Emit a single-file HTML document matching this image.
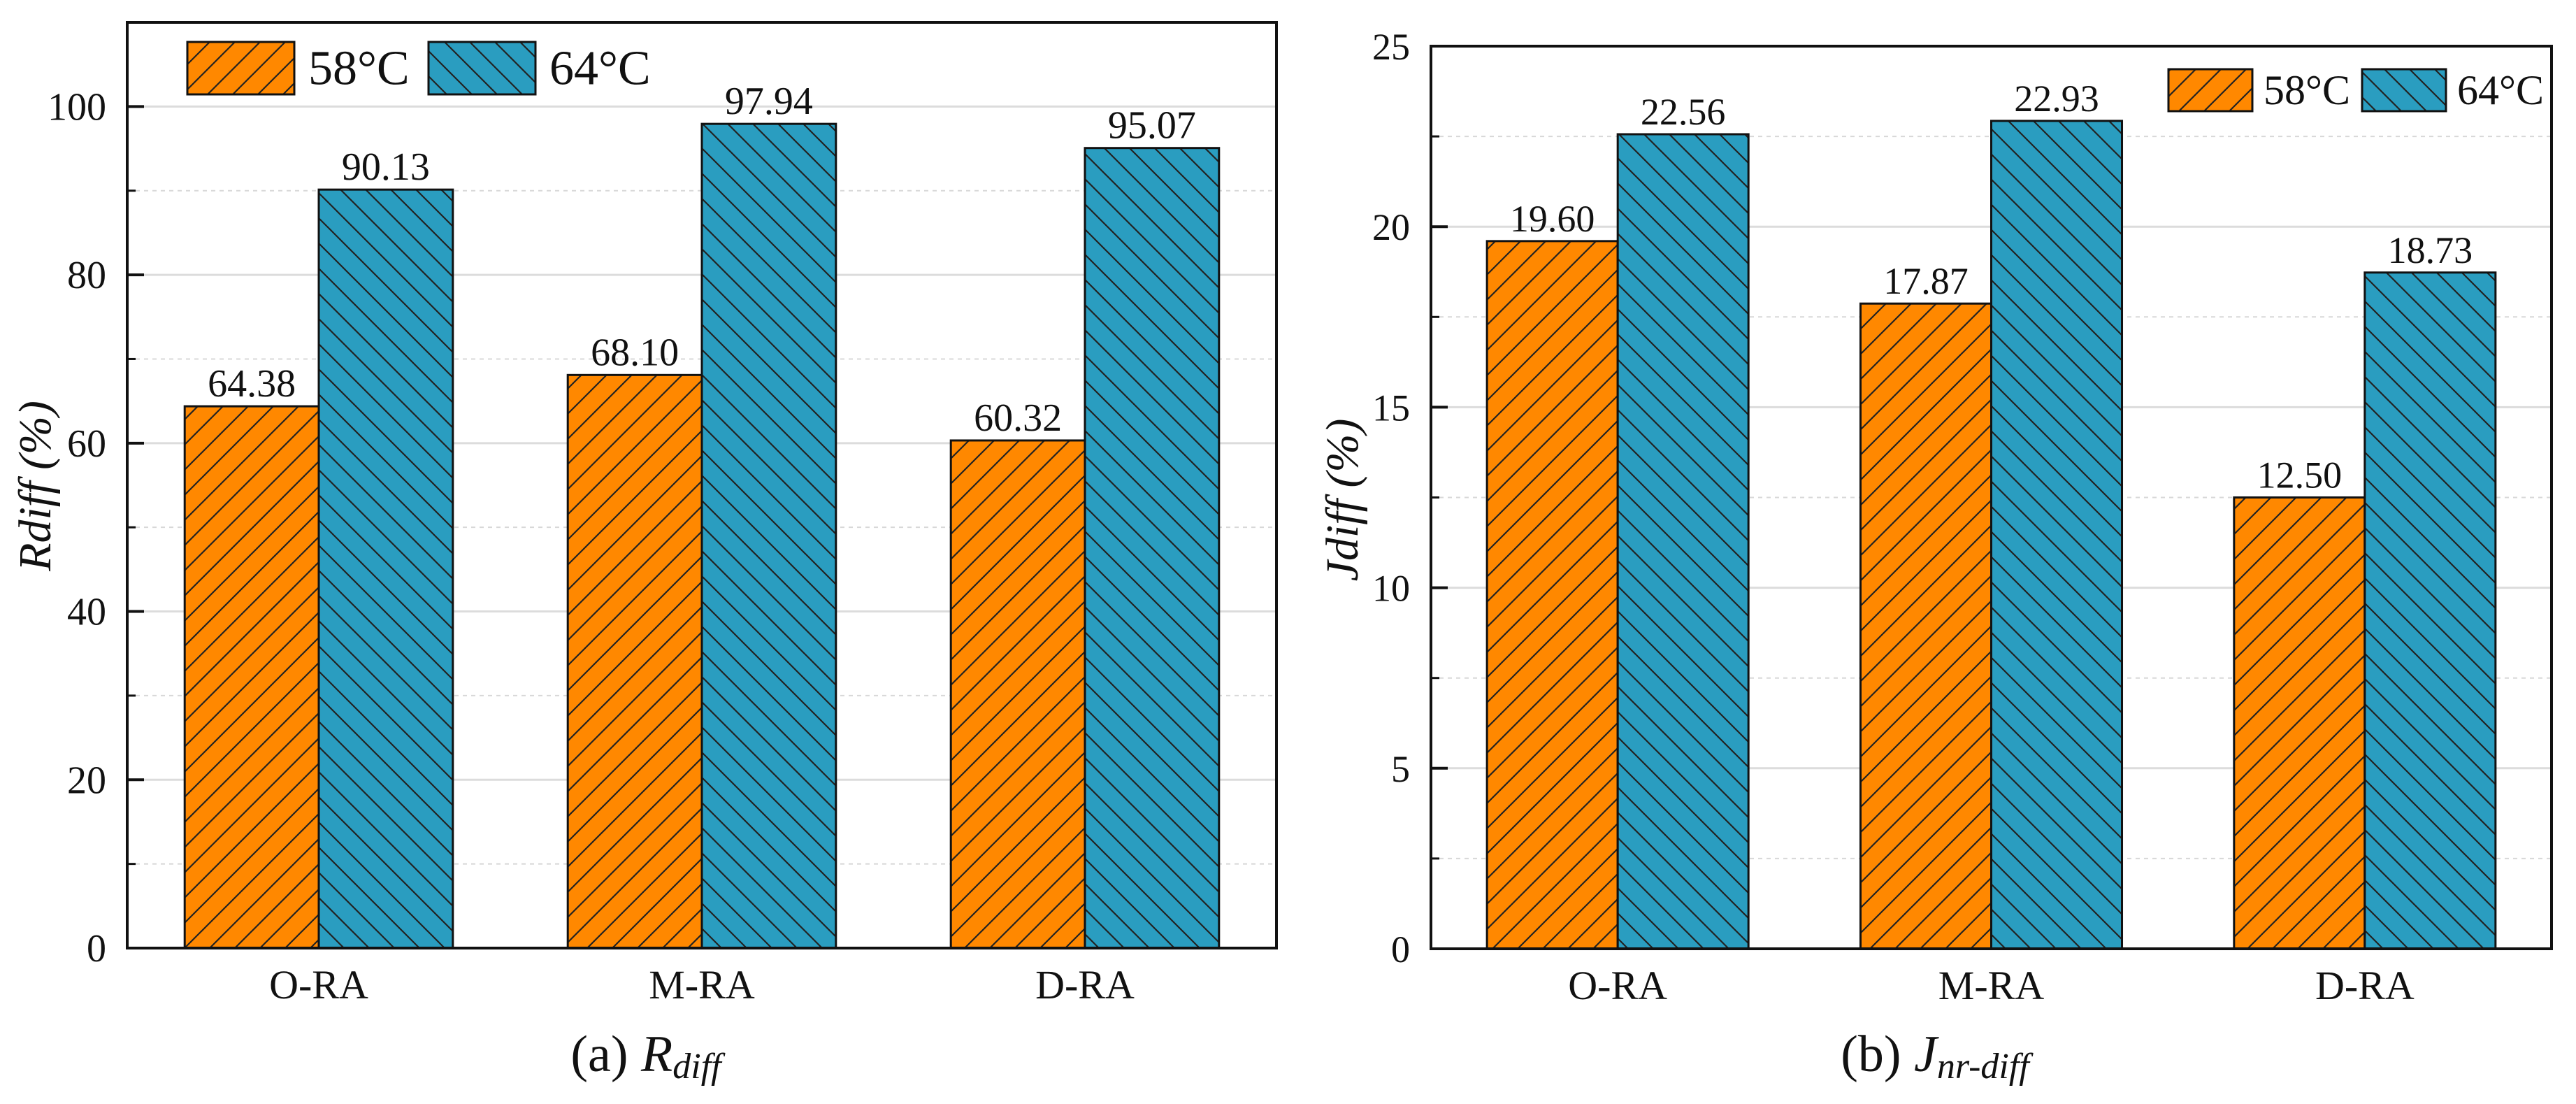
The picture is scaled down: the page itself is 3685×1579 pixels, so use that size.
<!DOCTYPE html>
<html><head><meta charset="utf-8">
<style>
html,body{margin:0;padding:0;background:#fff;}
svg{display:block;font-family:"Liberation Serif",serif;}
</style></head>
<body>
<svg id="fig" width="3685" height="1579" viewBox="0 0 3685 1579" xmlns="http://www.w3.org/2000/svg">
<defs>
<pattern id="hatchO" patternUnits="userSpaceOnUse" width="36" height="36">
<rect width="36" height="36" fill="#FF8800"/>
<path d="M-9,9 L9,-9 M0,36 L36,0 M27,45 L45,27" stroke="#222" stroke-width="2.2"/>
</pattern>
<pattern id="hatchB" patternUnits="userSpaceOnUse" width="36" height="36">
<rect width="36" height="36" fill="#2A9DC0"/>
<path d="M-9,27 L9,45 M0,0 L36,36 M27,-9 L45,9" stroke="#222" stroke-width="2.2"/>
</pattern>
</defs>
</svg>
<script>
const categories = ["O-RA", "M-RA", "D-RA"];
const seriesNames = ["58°C", "64°C"];
const rdiff58 = [64.38, 68.10, 60.32];
const rdiff64 = [90.13, 97.94, 95.07];
const jdiff58 = [19.60, 17.87, 12.50];
const jdiff64 = [22.56, 22.93, 18.73];
const rdiffTicks = [0, 20, 40, 60, 80, 100];
const rdiffMinor = [10, 30, 50, 70, 90];
const jdiffTicks = [0, 5, 10, 15, 20, 25];
const jdiffMinor = [2.5, 7.5, 12.5, 17.5, 22.5];

const NS = "http://www.w3.org/2000/svg";
const svg = document.getElementById("fig");
function mk(tag, attrs, parent, text) {
  const e = document.createElementNS(NS, tag);
  for (const k in attrs) e.setAttribute(k, attrs[k]);
  if (text !== undefined) e.textContent = text;
  (parent || svg).appendChild(e);
  return e;
}

function drawChart(cfg) {
  const g = mk("g", {});
  
  
  const x0 = cfg.x0, x1 = cfg.x1, y0 = cfg.y0, y1 = cfg.y1;
  const yScale = v => y1 - (v - cfg.ymin) / (cfg.ymax - cfg.ymin) * (y1 - y0);
  const catW = (x1 - x0) / categories.length;
  const xCenter = i => x0 + catW * (i + 0.5);
  const barW = catW * 0.35;
  // gridlines
  cfg.minor.forEach(v => {
    const l = mk("line", {x1: x0, x2: x1, y1: yScale(v), y2: yScale(v), stroke: "#d8d8d8", "stroke-width": 2, "stroke-dasharray": "6,6"}, g);
    
    
  });
  cfg.ticks.forEach(v => {
    if (v === cfg.ymin) return;
    const l = mk("line", {x1: x0, x2: x1, y1: yScale(v), y2: yScale(v), stroke: "#dcdcdc", "stroke-width": 3}, g);
    
    
  });
  // bars
  const series = [cfg.s1, cfg.s2];
  const fills = ["url(#hatchO)", "url(#hatchB)"];
  categories.forEach((c, i) => {
    series.forEach((s, k) => {
      const bx = xCenter(i) - barW + k * barW;
      const top = yScale(s[i]);
      const r = mk("rect", {x: bx, y: top, width: barW, height: yScale(cfg.ymin) - top, fill: fills[k], stroke: "#111", "stroke-width": 3}, g);
      
      
      const t = mk("text", {x: bx + barW / 2, y: top - 14, "text-anchor": "middle", "font-size": cfg.valFont, fill: "#111"}, g, s[i].toFixed(2));
      
      
    });
    const xl = mk("text", {x: xCenter(i), y: y1 + 72, "text-anchor": "middle", "font-size": 58, fill: "#111"}, g, c);
    
    
  });
  // frame
  const f = mk("rect", {x: x0, y: y0, width: x1 - x0, height: y1 - y0, fill: "none", stroke: "#111", "stroke-width": 4}, g);
  
  
  // ticks
  cfg.ticks.forEach(v => {
    const tk = mk("line", {x1: x0, x2: x0 + 24, y1: yScale(v), y2: yScale(v), stroke: "#111", "stroke-width": 4}, g);
    
    
    const tl = mk("text", {x: x0 - 30, y: yScale(v) + 19, "text-anchor": "end", "font-size": cfg.tickFont, fill: "#111"}, g, String(v));
    
    
  });
  cfg.minor.forEach(v => {
    const tk = mk("line", {x1: x0, x2: x0 + 12, y1: yScale(v), y2: yScale(v), stroke: "#111", "stroke-width": 3}, g);
    
    
  });
  // y title
  const yt = mk("text", {x: 0, y: 0, transform: "translate(" + cfg.ytX + "," + cfg.ytY + ") rotate(-90)", "text-anchor": "middle", "font-size": 66, "font-style": "italic", fill: "#111"}, g, cfg.ytitle);
  
  
  // legend
  const L = cfg.leg;
  [0, 1].forEach(k => {
    const lx = L.boxX[k];
    const lb = mk("rect", {x: lx, y: L.y, width: L.w, height: L.h, fill: fills[k], stroke: "#111", "stroke-width": 3}, g);
    
    
    const lt = mk("text", {x: lx + L.w + L.gap, y: L.y + L.h / 2 + L.font * 0.33, "font-size": L.font, fill: "#111"}, g, seriesNames[k]);
    
    
  });
  // caption
  const cap = mk("text", {x: cfg.capX, y: 1532, "text-anchor": "middle", "font-size": 74, fill: "#111"}, g);
  
  
  mk("tspan", {}, cap, cfg.capPre + " ");
  mk("tspan", {"font-style": "italic"}, cap, cfg.capMain);
  mk("tspan", {"font-style": "italic", "font-size": 52, dy: 10}, cap, cfg.capSub);
}

drawChart({name: "chart-rdiff", x0: 182, x1: 1826, y0: 32, y1: 1356, ymin: 0, ymax: 110,
  s1: rdiff58, s2: rdiff64, ticks: rdiffTicks, minor: rdiffMinor, valFont: 56, tickFont: 56,
  ytitle: "Rdiff (%)", ytX: 72, ytY: 695,
  leg: {boxX: [268, 613], y: 60, w: 153, h: 75, gap: 20, font: 70},
  capX: 924, capPre: "(a)", capMain: "R", capSub: "diff"});

drawChart({name: "chart-jdiff", x0: 2047, x1: 3650, y0: 66, y1: 1357, ymin: 0, ymax: 25,
  s1: jdiff58, s2: jdiff64, ticks: jdiffTicks, minor: jdiffMinor, valFont: 54, tickFont: 54,
  ytitle: "Jdiff (%)", ytX: 1942, ytY: 715,
  leg: {boxX: [3102, 3379], y: 99, w: 120, h: 60, gap: 16, font: 60},
  capX: 2768, capPre: "(b)", capMain: "J", capSub: "nr-diff"});
</script>
</body></html>
